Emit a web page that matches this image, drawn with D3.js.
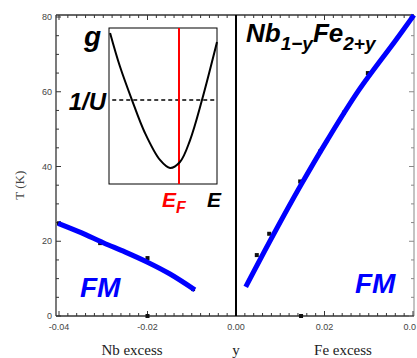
<!DOCTYPE html>
<html>
<head>
<meta charset="utf-8">
<script src="https://cdn.jsdelivr.net/npm/d3@7"></script>
<style>
  html, body { margin: 0; padding: 0; background: #fff; }
  svg { display: block; }
</style>
</head>
<body>
<svg id="chart" width="417" height="358"></svg>
<script>
// Curie temperature of Nb(1-y)Fe(2+y) versus composition y
const xTicks = [-0.04, -0.02, 0.00, 0.02, 0.04];
const xTickLabels = ["-0.04", "-0.02", "0.00", "0.02", "0.0"];
const yTicks = [0, 20, 40, 60, 80];

// measured points (y, T in K)
const nbX = [-0.0400, -0.0307, -0.0200, -0.0097, -0.0200];
const nbT = [24.8, 19.5, 15.5, 7.2, 0];
const feX = [0.0047, 0.0075, 0.0145, 0.0190, 0.0244, 0.0298, 0.0147];
const feT = [16.3, 22.0, 36.0, 44.0, 54.4, 65.0, 0];

// guide curves through the ferromagnetic boundary
const fitNbX = [-0.0402, -0.0350, -0.0300, -0.0250, -0.0200, -0.0150, -0.0093];
const fitNbT = [24.8, 22.3, 19.6, 17.1, 14.4, 11.3, 7.0];
const fitFeX = [0.0022, 0.0082, 0.0146, 0.0206, 0.0278, 0.0361, 0.0402];
const fitFeT = [7.8, 21.2, 34.9, 47.0, 60.5, 73.8, 80.5];

// inset: Stoner-type sketch g(E) with 1/U level and Fermi energy
const insetE = [0.01, 0.10, 0.213, 0.333, 0.472, 0.565, 0.657, 0.75, 0.861, 1.0];
const insetG = [0.968, 0.756, 0.538, 0.327, 0.154, 0.103, 0.141, 0.28, 0.538, 0.91];
const stonerLevel = 0.538;
const fermiE = 0.648;

const svg = d3.select("#chart");
const sans = "'Liberation Sans', Arial, sans-serif";
const serif = "'Liberation Serif', 'Times New Roman', serif";

const x = d3.scaleLinear().domain([-0.04, 0.04]).range([59, 413]);
const y = d3.scaleLinear().domain([0, 80]).range([316, 17]);

const frameL = 56, frameR = 414, frameT = 15, frameB = 316;
const axisColor = "#333";

// frame
const frame = svg.append("g").attr("stroke", axisColor).attr("fill", "none");
frame.append("line").attr("x1", frameL).attr("x2", frameL).attr("y1", frameT).attr("y2", frameB).attr("stroke-width", 1.3);
frame.append("line").attr("x1", frameL).attr("x2", frameR).attr("y1", frameB).attr("y2", frameB).attr("stroke-width", 1.3);
frame.append("line").attr("x1", frameL).attr("x2", frameR).attr("y1", frameT).attr("y2", frameT).attr("stroke-width", 1.3);
frame.append("line").attr("x1", frameR).attr("x2", frameR).attr("y1", frameT).attr("y2", frameB).attr("stroke-width", 1).attr("stroke", "#888");

// minor and major ticks
const yMinor = d3.range(0, 81, 5);
const xMinor = d3.range(-40, 41, 2).map(d => d / 1000);
const tk = svg.append("g").attr("stroke", axisColor).attr("stroke-width", 1);
yMinor.forEach(v => {
  const len = (v % 20 === 0) ? 5 : 3;
  tk.append("line").attr("x1", frameL).attr("x2", frameL + len).attr("y1", y(v)).attr("y2", y(v));
  tk.append("line").attr("x1", frameR).attr("x2", frameR - len).attr("y1", y(v)).attr("y2", y(v)).attr("stroke", "#888");
});
xMinor.forEach(v => {
  const major = Math.abs(Math.round(v * 1000)) % 20 === 0;
  const len = major ? 5 : 3;
  tk.append("line").attr("x1", x(v)).attr("x2", x(v)).attr("y1", frameB).attr("y2", frameB - len);
  tk.append("line").attr("x1", x(v)).attr("x2", x(v)).attr("y1", frameT).attr("y2", frameT + len);
});

// tick labels (the last one sits against the right edge)
svg.append("g").selectAll("text").data(yTicks).join("text")
  .attr("x", frameL - 4).attr("y", d => y(d)).attr("dy", "0.35em")
  .attr("text-anchor", "end").attr("font-family", sans).attr("font-size", 9)
  .attr("fill", "#444").text(d => d);
svg.append("g").selectAll("text").data(xTicks).join("text")
  .attr("x", (d, i) => i === xTicks.length - 1 ? 416 : x(d)).attr("y", 330)
  .attr("text-anchor", (d, i) => i === xTicks.length - 1 ? "end" : "middle")
  .attr("font-family", sans).attr("font-size", 9)
  .attr("fill", "#444").text((d, i) => xTickLabels[i]);

// axis titles
svg.append("text").attr("x", 132).attr("y", 355).attr("text-anchor", "middle")
  .attr("font-family", serif).attr("font-size", 15).attr("fill", "#222").text("Nb excess");
svg.append("text").attr("x", x(0)).attr("y", 355).attr("text-anchor", "middle")
  .attr("font-family", serif).attr("font-size", 15).attr("fill", "#222").text("y");
svg.append("text").attr("x", 343).attr("y", 355).attr("text-anchor", "middle")
  .attr("font-family", serif).attr("font-size", 15).attr("fill", "#222").text("Fe excess");
svg.append("text").attr("transform", `translate(24,${y(35)}) rotate(-90)`)
  .attr("text-anchor", "middle").attr("font-family", serif).attr("font-size", 13)
  .attr("fill", "#444").text("T (K)");

// stoichiometric divider
svg.append("line").attr("x1", x(0)).attr("x2", x(0)).attr("y1", frameT).attr("y2", frameB)
  .attr("stroke", "#000").attr("stroke-width", 2);

// measured points
const pts = nbX.map((v, i) => [v, nbT[i]]).concat(feX.map((v, i) => [v, feT[i]]));
svg.append("g").selectAll("rect").data(pts).join("rect")
  .attr("x", d => x(d[0]) - 2).attr("y", d => y(d[1]) - 2)
  .attr("width", 4).attr("height", 4).attr("fill", "#111");

// guide curves
const line = d3.line().x(d => x(d[0])).y(d => y(d[1])).curve(d3.curveCatmullRom);
svg.append("path").datum(fitNbX.map((v, i) => [v, fitNbT[i]]))
  .attr("d", line).attr("fill", "none").attr("stroke", "#0000ff").attr("stroke-width", 5);
svg.append("path").datum(fitFeX.map((v, i) => [v, fitFeT[i]]))
  .attr("d", line).attr("fill", "none").attr("stroke", "#0000ff").attr("stroke-width", 5);

// phase labels
const boldItalic = (sel, size) => sel.attr("font-family", sans).attr("font-weight", "bold")
  .attr("font-style", "italic").attr("font-size", size);
boldItalic(svg.append("text").attr("x", 80).attr("y", 297), 28).attr("fill", "#0000ff").text("FM");
boldItalic(svg.append("text").attr("x", 355).attr("y", 293), 28).attr("fill", "#0000ff").text("FM");

// compound formula
const formula = boldItalic(svg.append("text").attr("x", 246).attr("y", 42), 26).attr("fill", "#000");
formula.append("tspan").text("Nb");
formula.append("tspan").attr("font-size", 19).attr("dy", 8).text("1\u2212y");
formula.append("tspan").attr("dy", -8).text("Fe");
formula.append("tspan").attr("font-size", 19).attr("dy", 8).text("2+y");

// inset
const ix = d3.scaleLinear().domain([0, 1]).range([109, 217]);
const iy = d3.scaleLinear().domain([0, 1]).range([184, 28]);
svg.append("rect").attr("x", ix(0)).attr("y", iy(1)).attr("width", ix(1) - ix(0)).attr("height", iy(0) - iy(1))
  .attr("fill", "#fff").attr("stroke", "#000").attr("stroke-width", 1);
svg.append("line").attr("x1", ix(0.03)).attr("x2", ix(1)).attr("y1", iy(stonerLevel)).attr("y2", iy(stonerLevel))
  .attr("stroke", "#000").attr("stroke-width", 1.5).attr("stroke-dasharray", "4,3");
svg.append("line").attr("x1", ix(fermiE)).attr("x2", ix(fermiE)).attr("y1", iy(1)).attr("y2", iy(0))
  .attr("stroke", "#ff0000").attr("stroke-width", 2);
svg.append("path").datum(insetE.map((v, i) => [v, insetG[i]]))
  .attr("d", d3.line().x(d => ix(d[0])).y(d => iy(d[1])).curve(d3.curveCatmullRom))
  .attr("fill", "none").attr("stroke", "#000").attr("stroke-width", 2);

boldItalic(svg.append("text").attr("x", 84).attr("y", 46), 28).attr("fill", "#000").text("g");
boldItalic(svg.append("text").attr("x", 106).attr("y", 110).attr("text-anchor", "end"), 24).attr("fill", "#000").text("1/U");
const ef = boldItalic(svg.append("text").attr("x", 162).attr("y", 207), 21).attr("fill", "#ff0000");
ef.append("tspan").text("E");
ef.append("tspan").attr("font-size", 16).attr("dy", 6).text("F");
boldItalic(svg.append("text").attr("x", 207).attr("y", 207), 21).attr("fill", "#000").text("E");
</script>
</body>
</html>
